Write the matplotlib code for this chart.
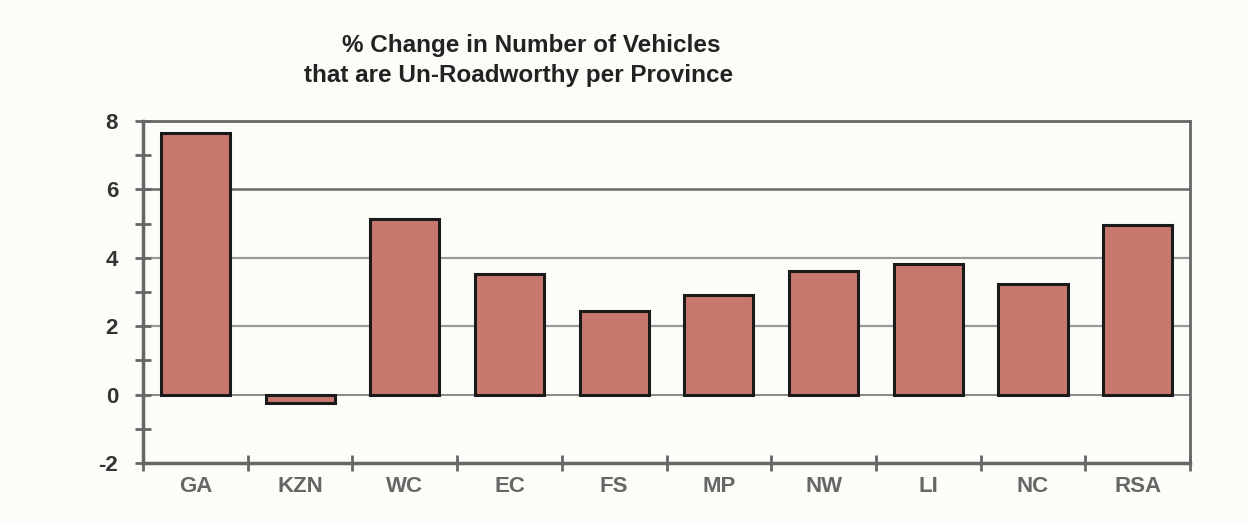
import matplotlib
matplotlib.use("Agg")
import matplotlib.pyplot as plt
from matplotlib.ticker import MultipleLocator, FixedLocator, NullFormatter

categories = ["GA", "KZN", "WC", "EC", "FS", "MP", "NW", "LI", "NC", "RSA"]
values = [7.65, -0.25, 5.15, 3.53, 2.45, 2.92, 3.62, 3.82, 3.24, 4.96]
yticks = [-2, 0, 2, 4, 6, 8]
title_lines = ["% Change in Number of Vehicles", "that are Un-Roadworthy per Province"]

plt.rcParams['font.family'] = ['Liberation Sans', 'DejaVu Sans']
plt.rcParams['axes.unicode_minus'] = False

fig = plt.figure(figsize=(12.48, 5.22), dpi=100)
fig.patch.set_facecolor('#fcfcf8')
ax = fig.add_axes([0.1146, 0.113, 0.839, 0.655])
ax.set_facecolor('#fcfcf8')

x = list(range(len(categories)))
ax.axhline(6, color='#6a6a6a', lw=1.8, zorder=1)
for yy in [2, 4]:
    ax.axhline(yy, color='#999999', lw=1.6, zorder=1)
ax.axhline(0, color='#888888', lw=1.4, zorder=1)

ax.bar(x, values, width=0.66, color='#c8776f', edgecolor='#1a1a1a',
       linewidth=2.2, zorder=3)

ax.set_xlim(-0.5, len(categories) - 0.5)
ax.set_ylim(-2, 8)
ax.set_yticks(yticks)
ax.yaxis.set_minor_locator(MultipleLocator(1))
ax.xaxis.set_major_locator(FixedLocator([i + 0.5 for i in range(-1, len(categories))]))
ax.xaxis.set_major_formatter(NullFormatter())
ax.set_xticks(x, minor=True)
ax.set_xticklabels(categories, minor=True, fontsize=16, fontweight='bold', color='#666666')
ax.tick_params(axis='x', which='minor', length=0, pad=9)
ax.tick_params(axis='x', which='major', direction='inout', length=12, width=2, color='#666666')
ax.tick_params(axis='y', which='both', direction='inout', length=12, width=2, color='#666666')
ax.tick_params(axis='y', which='major', labelsize=16, labelcolor='#333333', pad=12)
for lab in ax.get_yticklabels():
    lab.set_fontweight('bold')

for side in ['left', 'bottom']:
    ax.spines[side].set_color('#666666')
    ax.spines[side].set_linewidth(2.5)
for side in ['top', 'right']:
    ax.spines[side].set_color('#666666')
    ax.spines[side].set_linewidth(2)

fig.text(531 / 1248, 0.900, title_lines[0], ha='center', va='baseline',
         fontsize=17.5, fontweight='bold', color='#222222')
fig.text(519 / 1248, 0.843, title_lines[1], ha='center', va='baseline',
         fontsize=17.5, fontweight='bold', color='#222222')

fig.savefig("out.png", dpi=100, facecolor=fig.get_facecolor())
